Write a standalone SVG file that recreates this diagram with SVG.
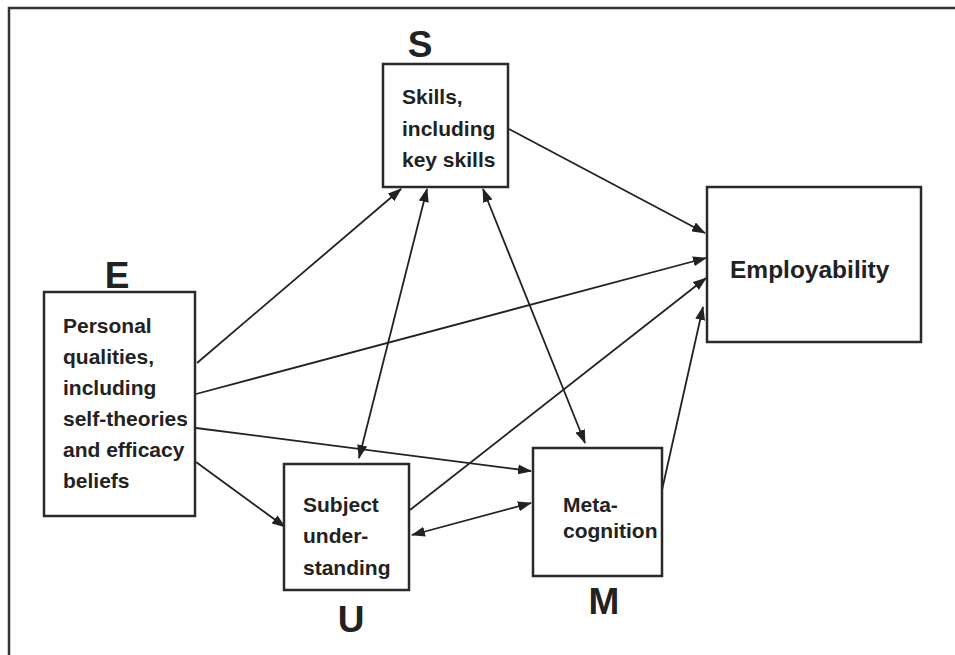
<svg xmlns="http://www.w3.org/2000/svg" width="955" height="655" viewBox="0 0 955 655">
<defs>
<marker id="ah" viewBox="0 0 14 10" refX="13" refY="5" markerWidth="14" markerHeight="10" markerUnits="userSpaceOnUse" orient="auto-start-reverse">
<path d="M0,0 L14,5 L0,10 Z" fill="#222"/>
</marker>
<style>
.box{fill:#fff;stroke:#2a2a2a;stroke-width:2.5}
.t{font-family:"Liberation Sans",Arial,sans-serif;font-weight:bold;font-size:21px;fill:#222}
.big{font-family:"Liberation Sans",Arial,sans-serif;font-weight:bold;font-size:37px;fill:#222}
.c{fill:none;stroke:#222;stroke-width:1.8}
</style>
</defs>
<rect width="955" height="655" fill="#fff"/>
<path d="M9,655 L9,8 L955,8" fill="none" stroke="#333" stroke-width="2.5"/>

<g id="connectors">
<line class="c" x1="197" y1="363" x2="401" y2="189" marker-end="url(#ah)"/>
<line class="c" x1="196" y1="394" x2="706" y2="258" marker-end="url(#ah)"/>
<line class="c" x1="196" y1="428" x2="531" y2="471" marker-end="url(#ah)"/>
<line class="c" x1="196" y1="462" x2="285" y2="527" marker-end="url(#ah)"/>
<line class="c" x1="427" y1="189" x2="359" y2="458" marker-start="url(#ah)" marker-end="url(#ah)"/>
<line class="c" x1="483" y1="189" x2="585" y2="443" marker-start="url(#ah)" marker-end="url(#ah)"/>
<line class="c" x1="509" y1="129" x2="705" y2="233" marker-end="url(#ah)"/>
<line class="c" x1="410" y1="510" x2="706" y2="278" marker-end="url(#ah)"/>
<line class="c" x1="412" y1="535" x2="531" y2="503" marker-start="url(#ah)" marker-end="url(#ah)"/>
<line class="c" x1="662" y1="490" x2="703" y2="307" marker-end="url(#ah)"/>
</g>

<g id="S">
<text class="big" x="420" y="57" text-anchor="middle">S</text>
<rect class="box" x="383" y="64" width="125" height="123"/>
<text class="t" x="402" y="104">Skills,</text>
<text class="t" x="402" y="136">including</text>
<text class="t" x="402" y="167">key skills</text>
</g>

<g id="E">
<text class="big" x="117" y="288" text-anchor="middle">E</text>
<rect class="box" x="44" y="292" width="151" height="224"/>
<text class="t" x="63" y="333">Personal</text>
<text class="t" x="63" y="364">qualities,</text>
<text class="t" x="63" y="395">including</text>
<text class="t" x="63" y="426">self-theories</text>
<text class="t" x="63" y="457">and efficacy</text>
<text class="t" x="63" y="488">beliefs</text>
</g>

<g id="U">
<rect class="box" x="284" y="464" width="125" height="126"/>
<text class="t" x="303" y="512">Subject</text>
<text class="t" x="303" y="543">under-</text>
<text class="t" x="303" y="575">standing</text>
<text class="big" x="351" y="632" text-anchor="middle">U</text>
</g>

<g id="M">
<rect class="box" x="533" y="448" width="129" height="128"/>
<text class="t" x="563" y="512">Meta-</text>
<text class="t" x="563" y="538">cognition</text>
<text class="big" x="604" y="614" text-anchor="middle">M</text>
</g>

<g id="Employability">
<rect class="box" x="707" y="187" width="214" height="155"/>
<text class="t" x="730" y="278" style="font-size:24.5px">Employability</text>
</g>
</svg>
